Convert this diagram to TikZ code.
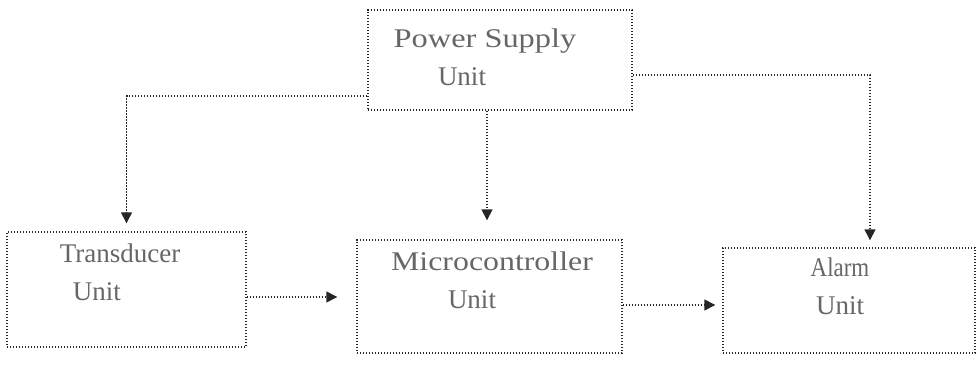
\documentclass[tikz,border=0pt]{standalone}
\usepackage{fontspec}
\setmainfont{Liberation Serif}
\usepackage{graphicx}
\usetikzlibrary{arrows.meta, positioning}

\begin{document}
\begin{tikzpicture}[
    x=1pt, y=1pt,
    unit/.style={rectangle, draw=black!85, line width=1.4pt,
                 dash pattern=on 1.4pt off 1.6pt, inner sep=0pt},
    txt/.style={font=\fontsize{27}{38}\selectfont, text=black!60,
                align=center, inner sep=0pt},
    link/.style={-{Triangle[length=11pt,width=11pt]}, draw=black!85,
                 line width=1.4pt, dash pattern=on 1.4pt off 1.6pt}
]
\useasboundingbox (0,0) rectangle (979,-364);

% Blocks
\node[unit, minimum width=264pt, minimum height=100pt] (psu) at (500,-60) {};
\node[unit, minimum width=239pt, minimum height=115pt] (trans) at (126.5,-289.5) {};
\node[unit, minimum width=265pt, minimum height=113pt] (mcu) at (489.5,-296.5) {};
\node[unit, minimum width=252pt, minimum height=105pt] (alarm) at (849,-300.5) {};

% Labels
\node[txt] (psutxt) at (485,-57) {\scalebox{1.2}[1]{Power Supply}\\Unit\hspace*{46pt}};
\node[txt] (transtxt) at (120,-272) {Transducer\\Unit\hspace*{46pt}};
\node[txt] (mcutxt) at (492,-280) {\scalebox{1.18}[1]{Microcontroller}\\Unit\hspace*{40pt}};
\node[txt] (alarmtxt) at (840,-286.5) {\scalebox{0.85}[1]{Alarm}\\Unit};

% Supply lines
\draw[link, shorten >=8pt] ([yshift=-36pt]psu.west) -| (trans.north);
\draw[link, shorten >=19pt] ([xshift=-13pt]psu.south) -- ([xshift=-13pt]psu.south |- mcu.north);
\draw[link, shorten >=7pt] ([yshift=-15pt]psu.east) -| ([xshift=21pt]alarm.north);

% Signal path
\draw[link, shorten >=19pt] ([yshift=-7.5pt]trans.east) -- ([yshift=-7.5pt]trans.east -| mcu.west);
\draw[link, shorten >=7pt] ([yshift=-8.5pt]mcu.east) -- ([yshift=-8.5pt]mcu.east -| alarm.west);

\end{tikzpicture}
\end{document}
